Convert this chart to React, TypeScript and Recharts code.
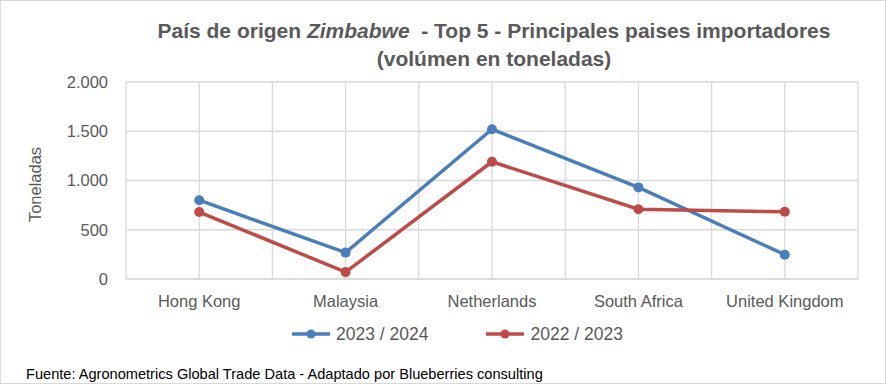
import React from 'react';
import { LineChart, Line, XAxis, YAxis, CartesianGrid, Label } from 'recharts';

const categories = ['Hong Kong', 'Malaysia', 'Netherlands', 'South Africa', 'United Kingdom'];
const serie2324 = [800, 268, 1520, 930, 247];
const serie2223 = [680, 70, 1190, 708, 682];
const yTicks = [0, 500, 1000, 1500, 2000];
const seriesNames = ['2023 / 2024', '2022 / 2023'];
const colors = ['#4A7EBB', '#BE4B48'];

const data = categories.map((c, i) => ({ name: c, a: serie2324[i], b: serie2223[i] }));

const FONT = "'Liberation Sans', Arial, sans-serif";
const fmt = (v: number) => v.toLocaleString('de-DE');

const YLabel = (props: any) => {
  const vb = props.viewBox;
  const cx = 35;
  const cy = vb.y + vb.height / 2 + 4;
  return (
    <text x={cx} y={cy} transform={`rotate(-90 ${cx} ${cy})`} textAnchor="middle" dominantBaseline="central" fill="#595959" fontSize={16.5} fontFamily={FONT}>
      Toneladas
    </text>
  );
};

const PLOT_W = 886 - 56 - 70 - 28;
const HALF_BAND = PLOT_W / categories.length / 2;

export default function App() {
  return (
    <div style={{ position: 'fixed', left: 0, top: 0, width: 886, height: 384, background: '#fff', fontFamily: FONT }}>
      <div style={{ position: 'absolute', left: 0, top: 0, width: 884, height: 382, border: '1px solid #D9D9D9' }} />
      <div style={{ position: 'absolute', left: 0, width: 988, top: 17, textAlign: 'center', fontSize: 21, fontWeight: 'bold', color: '#595959', lineHeight: '28px' }}>
        País de origen <i>Zimbabwe</i>&nbsp; - Top 5 - Principales paises importadores
        <br />
        (volúmen en toneladas)
      </div>
      <div style={{ position: 'absolute', left: 0, top: 0 }}>
        <LineChart width={886} height={384} data={data} margin={{ top: 82, right: 28, bottom: 75, left: 56 }}>
          <CartesianGrid
            stroke="#D9D9D9"
            strokeWidth={1.3}
            verticalCoordinatesGenerator={({ offset }: any) =>
              Array.from({ length: categories.length * 2 + 1 }, (_, i) => offset.left + (i * offset.width) / (categories.length * 2))
            }
          />
          <XAxis
            dataKey="name"
            height={30}
            padding={{ left: HALF_BAND, right: HALF_BAND }}
            axisLine={{ stroke: '#D9D9D9', strokeWidth: 1.3 }}
            tickLine={false}
            tickSize={0}
            tickMargin={16}
            interval={0}
            tick={{ fill: '#595959', fontSize: 16.5, fontFamily: FONT }}
          />
          <YAxis
            width={70}
            domain={[0, 2000]}
            ticks={yTicks}
            tickFormatter={fmt}
            axisLine={false}
            tickLine={false}
            tickSize={0}
            tickMargin={18}
            tick={{ fill: '#595959', fontSize: 16.5, fontFamily: FONT }}
          >
            <Label content={YLabel} />
          </YAxis>
          <Line type="linear" dataKey="a" name={seriesNames[0]} stroke={colors[0]} strokeWidth={3.5} dot={{ r: 5, fill: colors[0], stroke: colors[0], strokeWidth: 0 }} isAnimationActive={false} />
          <Line type="linear" dataKey="b" name={seriesNames[1]} stroke={colors[1]} strokeWidth={3.5} dot={{ r: 5, fill: colors[1], stroke: colors[1], strokeWidth: 0 }} isAnimationActive={false} />
        </LineChart>
      </div>
      <div style={{ position: 'absolute', left: 291, top: 323, display: 'flex', fontSize: 17.5, color: '#595959', lineHeight: '22px' }}>
        {seriesNames.map((n, i) => (
          <div key={n} style={{ display: 'flex', alignItems: 'center', marginRight: i === 0 ? 57 : 0 }}>
            <svg width={40} height={12} style={{ marginRight: 5 }}>
              <line x1={1} y1={6} x2={39} y2={6} stroke={colors[i]} strokeWidth={3.5} />
              <circle cx={20} cy={6} r={4.5} fill={colors[i]} />
            </svg>
            <span>{n}</span>
          </div>
        ))}
      </div>
      <div style={{ position: 'absolute', left: 26, top: 366, fontSize: 14.6, color: '#000' }}>
        Fuente: Agronometrics Global Trade Data - Adaptado por Blueberries consulting
      </div>
    </div>
  );
}
